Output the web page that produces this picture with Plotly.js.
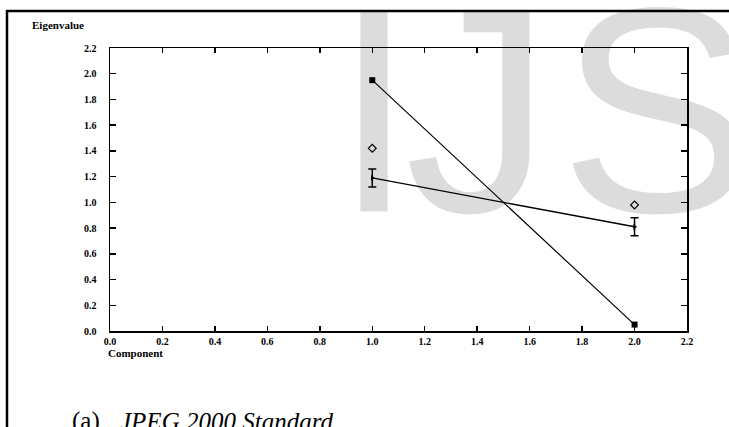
<!DOCTYPE html>
<html>
<head>
<meta charset="utf-8">
<script src="https://cdn.plot.ly/plotly-3.0.1.min.js"></script>
<style>html,body{margin:0;padding:0;background:#fff;}#chart{width:729px;height:427px;}</style>
</head>
<body>
<div id="chart"></div>
<script>
// Data
var components = [1, 2];
var seriesSquare = [1.95, 0.05];        // filled squares joined by line
var seriesMean = [1.19, 0.81];          // line with error bars
var seriesMeanErr = [0.07, 0.07];
var seriesDiamond = [1.42, 0.98];       // open diamonds
var tickVals = [0, 0.2, 0.4, 0.6, 0.8, 1.0, 1.2, 1.4, 1.6, 1.8, 2.0, 2.2];
var tickLabels = ['0.0','0.2','0.4','0.6','0.8','1.0','1.2','1.4','1.6','1.8','2.0','2.2'];
var yTitle = 'Eigenvalue';
var xTitle = 'Component';
var captionLabel = '(a)';
var captionText = 'JPEG 2000 Standard';
var watermark = ['I', 'J', 'S'];

var W = 729, H = 427;
var L = 110, R = 42, T = 48, B = 96;
var pw = W - L - R, ph = H - T - B;
function px(x) { return (x - L) / pw; }
function py(y) { return (H - B - y) / ph; }

var traces = [
  {
    x: components, y: seriesSquare, type: 'scatter', mode: 'lines+markers',
    line: {color: '#000', width: 1.2},
    marker: {symbol: 'square', size: 6, color: '#000'},
    hoverinfo: 'skip', showlegend: false
  },
  {
    x: components, y: seriesMean, type: 'scatter', mode: 'lines+markers',
    line: {color: '#000', width: 1.4},
    marker: {symbol: 'triangle-right', size: 5, color: '#000'},
    error_y: {type: 'data', array: seriesMeanErr, visible: true, color: '#000', thickness: 1.5, width: 4},
    hoverinfo: 'skip', showlegend: false
  },
  {
    x: components, y: seriesDiamond, type: 'scatter', mode: 'markers',
    marker: {symbol: 'diamond-open', size: 6, color: '#000', line: {width: 1.2}},
    hoverinfo: 'skip', showlegend: false
  }
];

var tickFont = {family: 'Liberation Serif', size: 10, color: '#000', weight: 'bold'};
var axisCommon = {
  range: [0, 2.2], tickmode: 'array', tickvals: tickVals, ticktext: tickLabels,
  showgrid: false, zeroline: false, showline: true, linecolor: '#000', linewidth: 1.5,
  mirror: 'allticks', ticks: 'inside', tickcolor: '#000', tickwidth: 1.5,
  tickfont: tickFont, fixedrange: true
};

var wmCenters = [[374, 82], [478, 82], [657, 82]];
var shapes = watermark.map(function (ch, i) {
  var c = wmCenters[i];
  return {
    type: 'rect', xref: 'paper', yref: 'paper', layer: 'below',
    x0: px(c[0] - 5), x1: px(c[0] + 5), y0: py(c[1] + 5), y1: py(c[1] - 5),
    line: {width: 0}, fillcolor: 'rgba(0,0,0,0)',
    label: {text: ch, textposition: 'middle center',
      font: {family: 'Liberation Sans', size: 293, color: '#dcdcdc'}}
  };
});
shapes.push({
  type: 'rect', xref: 'paper', yref: 'paper', layer: 'above',
  x0: px(7), x1: px(780), y0: py(480), y1: py(11),
  line: {color: '#000', width: 2.5}, fillcolor: 'rgba(0,0,0,0)'
});

var layout = {
  width: W, height: H,
  margin: {l: L, r: R, t: T, b: B, pad: 0},
  paper_bgcolor: '#fff', plot_bgcolor: 'rgba(0,0,0,0)',
  xaxis: Object.assign({}, axisCommon, {ticklen: 5, ticklabelstandoff: 0}),
  yaxis: Object.assign({}, axisCommon, {ticklen: 6, ticklabelstandoff: 10}),
  shapes: shapes,
  annotations: [
    {text: yTitle, xref: 'paper', yref: 'paper', x: px(30), y: py(25), xanchor: 'left', yanchor: 'middle',
     showarrow: false, font: {family: 'Liberation Serif', size: 11, color: '#000', weight: 'bold'}},
    {text: xTitle, xref: 'paper', yref: 'paper', x: px(106), y: py(353), xanchor: 'left', yanchor: 'middle',
     showarrow: false, font: {family: 'Liberation Serif', size: 11, color: '#000', weight: 'bold'}},
    {text: captionLabel, xref: 'paper', yref: 'paper', x: px(70), y: py(421), xanchor: 'left', yanchor: 'middle',
     showarrow: false, font: {family: 'Liberation Serif', size: 25, color: '#000'}},
    {text: '<i>' + captionText + '</i>', xref: 'paper', yref: 'paper', x: px(118), y: py(421), xanchor: 'left', yanchor: 'middle',
     showarrow: false, font: {family: 'Liberation Serif', size: 25, color: '#000'}}
  ]
};

Plotly.newPlot('chart', traces, layout, {displayModeBar: false, staticPlot: true});
</script>
</body>
</html>
